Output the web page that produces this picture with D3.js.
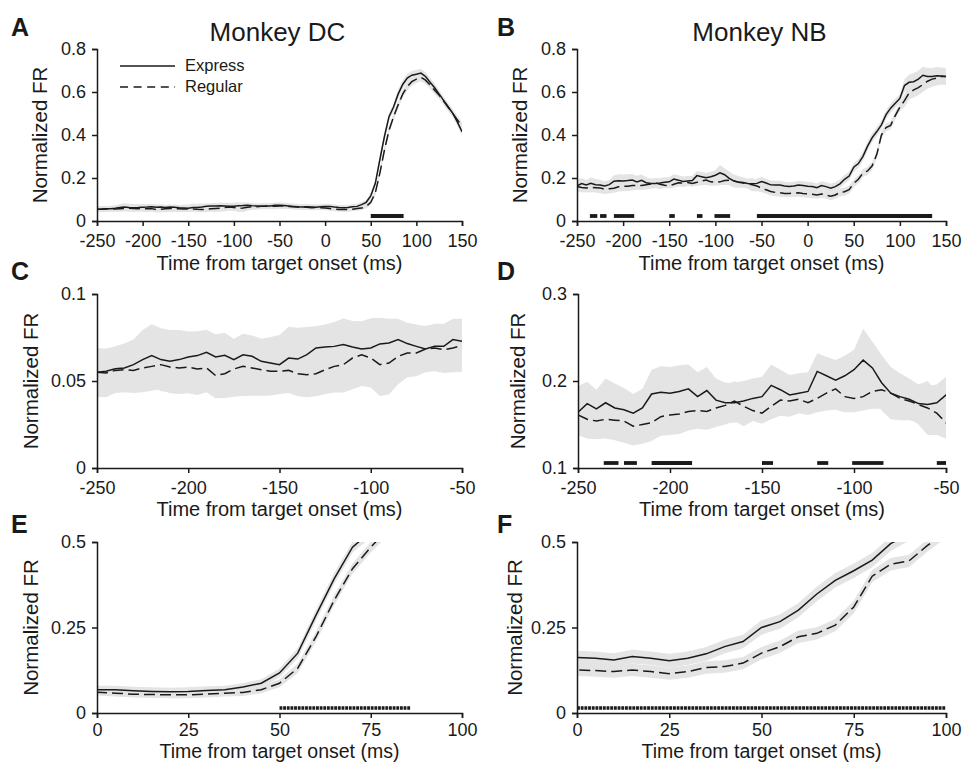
<!DOCTYPE html>
<html>
<head>
<meta charset="utf-8">
<script src="https://cdn.jsdelivr.net/npm/d3@7"></script>
<style>
body { margin: 0; background: #fff; }
svg text { font-family: "Liberation Sans", Arial, Helvetica, sans-serif; fill: #1a1a1a; }
</style>
</head>
<body>
<svg id="fig" width="965" height="763"></svg>
<script>
// sample times (ms from target onset), one value every 5 ms
const time = d3.range(-250, 151, 5)

// Monkey DC - mean normalized firing rate
const dcExpress = [
  0.055, 0.0556, 0.057, 0.0575, 0.0594, 0.0623, 0.0646, 0.0623, 0.0613, 0.0623,
  0.0638, 0.0646, 0.0665, 0.0638, 0.0648, 0.0623, 0.0651, 0.0642, 0.0613, 0.0603,
  0.0594, 0.0632, 0.0626, 0.0651, 0.069, 0.0695, 0.0699, 0.0709, 0.0695, 0.0684,
  0.069, 0.0713, 0.0718, 0.0738, 0.0715, 0.0699, 0.0684, 0.0699, 0.0699, 0.0738,
  0.0728,
  0.072, 0.07, 0.068, 0.066, 0.065, 0.066, 0.065, 0.064, 0.066,
  0.068, 0.068, 0.065, 0.063, 0.062, 0.063, 0.066, 0.068, 0.076, 0.087,
  0.117, 0.175, 0.286, 0.393, 0.485, 0.53, 0.59, 0.635, 0.665, 0.678, 0.683,
  0.688, 0.672, 0.645, 0.62, 0.59, 0.56, 0.53, 0.50, 0.46, 0.415
]
const dcRegular = [
  0.055, 0.0546, 0.0561, 0.0565, 0.0561, 0.0575, 0.0584, 0.0594, 0.058, 0.0575,
  0.058, 0.0569, 0.0575, 0.0531, 0.0542, 0.0569, 0.0584, 0.0575, 0.0565, 0.0556,
  0.0556, 0.0561, 0.0542, 0.0536, 0.0542, 0.0565, 0.0584, 0.0594, 0.0632, 0.0651,
  0.0632, 0.0594, 0.0603, 0.0642, 0.0661, 0.0661, 0.0684, 0.069, 0.068, 0.069,
  0.0703,
  0.069, 0.068, 0.066, 0.065, 0.063, 0.064, 0.062, 0.063, 0.062,
  0.061, 0.058, 0.055, 0.054, 0.053, 0.053, 0.055, 0.058, 0.060, 0.068,
  0.087, 0.131, 0.223, 0.33, 0.422, 0.485, 0.54, 0.59, 0.625, 0.648, 0.66,
  0.668, 0.655, 0.633, 0.608, 0.585, 0.557, 0.528, 0.50, 0.47, 0.44
]
// Monkey DC - standard error
const dcExpressSem = [
  0.013, 0.013, 0.013, 0.014, 0.0144, 0.017, 0.018, 0.018, 0.018, 0.017,
  0.0147, 0.014, 0.013, 0.013, 0.013, 0.012, 0.012, 0.012, 0.013, 0.015,
  0.017, 0.018, 0.018, 0.016, 0.0124, 0.013, 0.014, 0.015, 0.015, 0.016,
  0.017, 0.015, 0.014, 0.012, 0.012, 0.0125, 0.013, 0.013, 0.013, 0.012,
  0.013,
  0.013, 0.013, 0.013, 0.013, 0.013, 0.013, 0.013, 0.013, 0.013,
  0.012, 0.012, 0.012, 0.012, 0.012, 0.012, 0.012, 0.012, 0.012, 0.012,
  0.013, 0.015, 0.016, 0.016, 0.016, 0.018, 0.02, 0.02, 0.02, 0.02, 0.02,
  0.02, 0.02, 0.02, 0.02, 0.018, 0.018, 0.018, 0.018, 0.018, 0.018
]
const dcRegularSem = [
  0.014, 0.014, 0.013, 0.013, 0.013, 0.014, 0.014, 0.014, 0.015, 0.015,
  0.015, 0.015, 0.014, 0.013, 0.014, 0.016, 0.017, 0.016, 0.015, 0.014,
  0.013, 0.013, 0.013, 0.013, 0.013, 0.014, 0.015, 0.016, 0.018, 0.018,
  0.017, 0.018, 0.018, 0.016, 0.014, 0.0134, 0.0134, 0.0134, 0.0134, 0.014,
  0.015,
  0.012, 0.012, 0.012, 0.012, 0.012, 0.012, 0.012, 0.012, 0.012,
  0.01, 0.01, 0.01, 0.01, 0.01, 0.01, 0.01, 0.01, 0.01, 0.01,
  0.012, 0.014, 0.015, 0.015, 0.015, 0.016, 0.018, 0.018, 0.018, 0.018, 0.018,
  0.018, 0.018, 0.018, 0.018, 0.018, 0.018, 0.018, 0.018, 0.018, 0.018
]

// Monkey NB - mean normalized firing rate
const nbExpress = [
  0.164, 0.174, 0.168, 0.175, 0.169, 0.167, 0.163, 0.169, 0.185, 0.187,
  0.186, 0.188, 0.191, 0.182, 0.189, 0.178, 0.175, 0.175, 0.177, 0.180,
  0.182, 0.195, 0.190, 0.184, 0.186, 0.188, 0.211, 0.206, 0.201, 0.206,
  0.213, 0.224, 0.215, 0.198, 0.186, 0.182, 0.179, 0.174, 0.173, 0.175,
  0.184,
  0.177, 0.168, 0.167, 0.167, 0.163, 0.160, 0.163, 0.167, 0.165,
  0.162, 0.160, 0.155, 0.165, 0.160, 0.153, 0.160, 0.173, 0.194, 0.209,
  0.250, 0.267, 0.301, 0.348, 0.388, 0.416, 0.447, 0.495, 0.525, 0.548, 0.570,
  0.630, 0.645, 0.648, 0.660, 0.678, 0.672, 0.672, 0.676, 0.674, 0.672
]
const nbRegular = [
  0.161, 0.156, 0.154, 0.156, 0.155, 0.154, 0.148, 0.150, 0.152, 0.159,
  0.161, 0.162, 0.165, 0.166, 0.165, 0.169, 0.172, 0.177, 0.171, 0.166,
  0.163, 0.171, 0.178, 0.177, 0.179, 0.175, 0.180, 0.186, 0.191, 0.182,
  0.180, 0.182, 0.188, 0.190, 0.186, 0.180, 0.177, 0.173, 0.169, 0.163,
  0.152,
  0.145, 0.137, 0.133, 0.131, 0.128, 0.128, 0.130, 0.131, 0.128,
  0.126, 0.124, 0.121, 0.126, 0.121, 0.115, 0.121, 0.133, 0.136, 0.146,
  0.175, 0.194, 0.223, 0.233, 0.257, 0.31, 0.40, 0.435, 0.445, 0.49, 0.53,
  0.560, 0.595, 0.610, 0.620, 0.635, 0.650, 0.660, 0.665, 0.672, 0.672
]
// Monkey NB - standard error
const nbExpressSem = [
  0.03, 0.025, 0.022, 0.028, 0.028, 0.025, 0.022, 0.022, 0.028, 0.03,
  0.03, 0.03, 0.028, 0.028, 0.027, 0.025, 0.023, 0.023, 0.023, 0.023,
  0.023, 0.024, 0.023, 0.023, 0.023, 0.022, 0.021, 0.022, 0.023, 0.023,
  0.023, 0.036, 0.03, 0.032, 0.03, 0.027, 0.024, 0.022, 0.021, 0.021,
  0.021,
  0.02, 0.02, 0.02, 0.02, 0.02, 0.02, 0.02, 0.02, 0.02,
  0.02, 0.02, 0.02, 0.02, 0.02, 0.02, 0.02, 0.02, 0.02, 0.02,
  0.021, 0.021, 0.021, 0.021, 0.021, 0.021, 0.021, 0.021, 0.021, 0.021, 0.022,
  0.03, 0.035, 0.04, 0.04, 0.04, 0.04, 0.04, 0.04, 0.04, 0.04
]
const nbRegularSem = [
  0.023, 0.022, 0.021, 0.022, 0.023, 0.025, 0.022, 0.022, 0.021, 0.022,
  0.023, 0.023, 0.022, 0.021, 0.021, 0.022, 0.022, 0.023, 0.023, 0.012,
  0.012, 0.015, 0.018, 0.018, 0.016, 0.014, 0.016, 0.02, 0.024, 0.018,
  0.016, 0.016, 0.02, 0.022, 0.022, 0.02, 0.02, 0.023, 0.031, 0.025,
  0.018,
  0.018, 0.018, 0.018, 0.018, 0.018, 0.018, 0.018, 0.018, 0.018,
  0.018, 0.018, 0.018, 0.018, 0.018, 0.018, 0.018, 0.018, 0.018, 0.018,
  0.018, 0.018, 0.018, 0.018, 0.018, 0.018, 0.018, 0.018, 0.018, 0.018, 0.018,
  0.03, 0.03, 0.035, 0.035, 0.035, 0.035, 0.035, 0.035, 0.035, 0.035
]

// significant express vs regular differences [start, end] in ms
const dcSig = [[50, 86]]
const nbSig = [[-236, -228], [-225, -218], [-210, -188], [-150, -144], [-120, -114], [-101, -84], [-55, 135]]

// tick values
const xTicksFull = [-250, -200, -150, -100, -50, 0, 50, 100, 150]
const xTicksPre = [-250, -200, -150, -100, -50]
const xTicksPost = [0, 25, 50, 75, 100]
const yTicksFull = [0, 0.2, 0.4, 0.6, 0.8]
const yTicksC = [0, 0.05, 0.1]
const yTicksD = [0.1, 0.2, 0.3]
const yTicksEF = [0, 0.25, 0.5]

const monkeys = {
  DC: { express: dcExpress, regular: dcRegular, semE: dcExpressSem, semR: dcRegularSem, sig: dcSig },
  NB: { express: nbExpress, regular: nbRegular, semE: nbExpressSem, semR: nbRegularSem, sig: nbSig }
}

// layout of the six panels (pixels)
const panels = [
  { letter: 'A', monkey: 'DC', left: 97, right: 462, top: 49, bottom: 221, xd: [-250, 150], yd: [0, 0.8], xt: xTicksFull, yt: yTicksFull, yLab: 50, xLab: 49, pad: 8, tf: 20, title: 'Monkey DC', legend: true },
  { letter: 'B', monkey: 'NB', left: 577, right: 946, top: 49, bottom: 221, xd: [-250, 150], yd: [0, 0.8], xt: xTicksFull, yt: yTicksFull, yLab: 50, xLab: 49, pad: 8, tf: 20, title: 'Monkey NB' },
  { letter: 'C', monkey: 'DC', left: 97, right: 462, top: 294, bottom: 468, xd: [-250, -50], yd: [0, 0.1], xt: xTicksPre, yt: yTicksC, yLab: 59, xLab: 48, pad: 8, tf: 20 },
  { letter: 'D', monkey: 'NB', left: 578, right: 946, top: 294, bottom: 468, xd: [-250, -50], yd: [0.1, 0.3], xt: xTicksPre, yt: yTicksD, yLab: 53, xLab: 48, pad: 8, tf: 20 },
  { letter: 'E', monkey: 'DC', left: 97, right: 462, top: 542, bottom: 713, xd: [0, 100], yd: [0, 0.5], xt: xTicksPost, yt: yTicksEF, yLab: 59, xLab: 45, pad: 5, tf: 19.5 },
  { letter: 'F', monkey: 'NB', left: 577, right: 946, top: 542, bottom: 713, xd: [0, 100], yd: [0, 0.5], xt: xTicksPost, yt: yTicksEF, yLab: 55, xLab: 45, pad: 5, tf: 19.5 }
]
const letterY = { A: 36, B: 36, C: 280, D: 280, E: 533, F: 533 }

const ink = '#1a1a1a'
const bandColor = '#e4e4e4'
const svg = d3.select('#fig')

panels.forEach((p, i) => {
  const m = monkeys[p.monkey]
  const x = d3.scaleLinear().domain(p.xd).range([p.left, p.right])
  const y = d3.scaleLinear().domain(p.yd).range([p.bottom, p.top])

  const g = svg.append('g')
  svg.append('clipPath').attr('id', 'clip' + i)
    .append('rect')
    .attr('x', p.left).attr('y', p.top)
    .attr('width', p.right - p.left).attr('height', p.bottom - p.top)
  const plot = g.append('g').attr('clip-path', `url(#clip${i})`)

  const rows = time.map((t, k) => ({ t, e: m.express[k], r: m.regular[k], se: m.semE[k], sr: m.semR[k] }))

  // SEM bands
  plot.append('path').datum(rows)
    .attr('fill', bandColor)
    .attr('d', d3.area().x(d => x(d.t)).y0(d => y(d.e - d.se)).y1(d => y(d.e + d.se)))
  plot.append('path').datum(rows)
    .attr('fill', bandColor)
    .attr('d', d3.area().x(d => x(d.t)).y0(d => y(d.r - d.sr)).y1(d => y(d.r + d.sr)))

  // mean lines
  plot.append('path').datum(rows)
    .attr('fill', 'none').attr('stroke', ink).attr('stroke-width', 1.5)
    .attr('d', d3.line().x(d => x(d.t)).y(d => y(d.e)))
  plot.append('path').datum(rows)
    .attr('fill', 'none').attr('stroke', ink).attr('stroke-width', 1.5)
    .attr('stroke-dasharray', '11,5')
    .attr('d', d3.line().x(d => x(d.t)).y(d => y(d.r)))

  // significance bars
  const pxPerMs = x(1) - x(0)
  m.sig.filter(s => s[1] > p.xd[0] && s[0] < p.xd[1]).forEach(s => {
    const a = Math.max(s[0], p.xd[0]), b = Math.min(s[1], p.xd[1])
    g.append('line')
      .attr('x1', x(a)).attr('x2', x(b))
      .attr('y1', p.bottom - 5).attr('y2', p.bottom - 5)
      .attr('stroke', ink).attr('stroke-width', pxPerMs > 3 ? 3.3 : 3.8)
      .attr('stroke-dasharray', pxPerMs > 3 ? `${pxPerMs - 0.8},0.8` : null)
  })

  // axes
  const xAxis = g.append('g')
    .attr('transform', `translate(0,${p.bottom})`)
    .call(d3.axisBottom(x).tickValues(p.xt).tickSize(5).tickPadding(p.pad).tickFormat(d => String(d)))
  const yAxis = g.append('g')
    .attr('transform', `translate(${p.left},0)`)
    .call(d3.axisLeft(y).tickValues(p.yt).tickSize(5).tickPadding(6).tickFormat(d => String(d)))
  ;[xAxis, yAxis].forEach(ax => {
    ax.selectAll('path, line').attr('stroke', ink).attr('stroke-width', 1.5)
    ax.selectAll('text').attr('font-size', 18).attr('fill', ink)
      .style('font-family', '"Liberation Sans", Arial, sans-serif')
  })

  // axis titles
  g.append('text')
    .attr('x', (p.left + p.right) / 2).attr('y', p.bottom + p.xLab)
    .attr('text-anchor', 'middle').attr('font-size', p.tf)
    .text('Time from target onset (ms)')
  g.append('text')
    .attr('transform', `translate(${p.left - p.yLab},${(p.top + p.bottom) / 2}) rotate(-90)`)
    .attr('text-anchor', 'middle').attr('font-size', 20.5)
    .text('Normalized FR')

  // panel letter
  g.append('text')
    .attr('x', p.left < 300 ? 11 : 497).attr('y', letterY[p.letter])
    .attr('font-size', 25).attr('font-weight', 'bold')
    .text(p.letter)

  if (p.title) {
    g.append('text')
      .attr('x', (p.left + p.right) / 2 - 2).attr('y', 41)
      .attr('text-anchor', 'middle').attr('font-size', 26)
      .text(p.title)
  }

  if (p.legend) {
    const lg = g.append('g').attr('transform', `translate(${p.left + 23},${p.top + 17})`)
    lg.append('line').attr('x1', 0).attr('x2', 55).attr('y1', 0).attr('y2', 0)
      .attr('stroke', ink).attr('stroke-width', 1.6)
    lg.append('line').attr('x1', 0).attr('x2', 55).attr('y1', 21).attr('y2', 21)
      .attr('stroke', ink).attr('stroke-width', 1.6).attr('stroke-dasharray', '8,5.6')
    lg.append('text').attr('x', 65).attr('y', 5).attr('font-size', 16.5).text('Express')
    lg.append('text').attr('x', 65).attr('y', 26).attr('font-size', 16.5).text('Regular')
  }
})
</script>
</body>
</html>
